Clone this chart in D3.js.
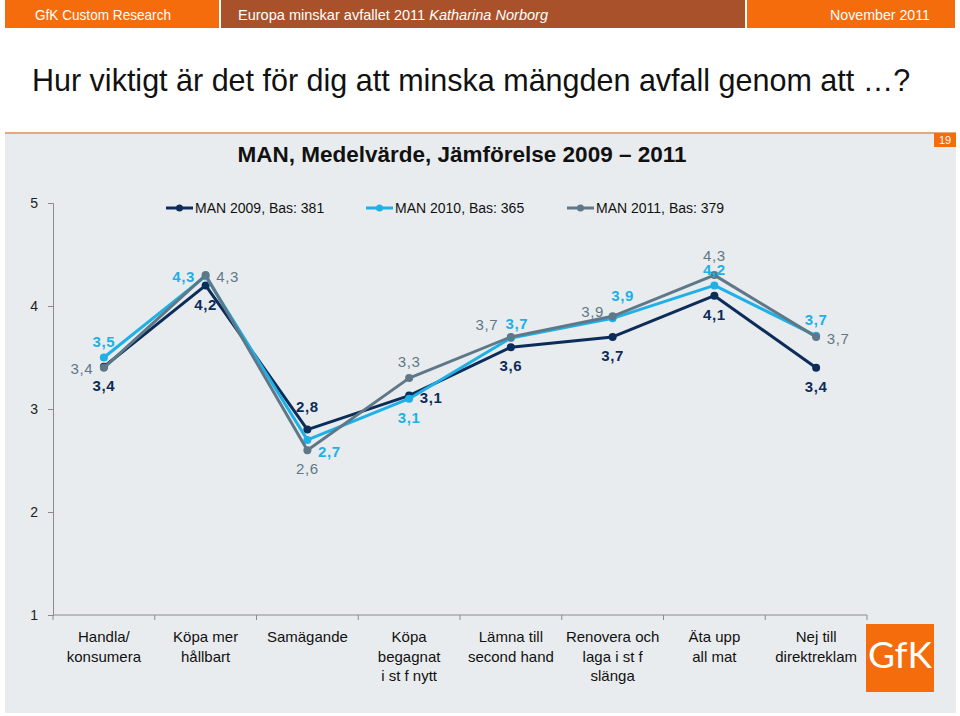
<!DOCTYPE html>
<html><head><meta charset="utf-8">
<script src="https://cdn.jsdelivr.net/npm/d3@7"></script>
<style>
body{margin:0;background:#fff;}
svg{display:block;font-family:"Liberation Sans",Arial,sans-serif;}
</style></head>
<body>
<svg id="c" width="960" height="716"></svg>
<script>
// ---- data ----
const categories = [
  ["Handla/","konsumera"],
  ["Köpa mer","hållbart"],
  ["Samägande"],
  ["Köpa","begagnat","i st f nytt"],
  ["Lämna till","second hand"],
  ["Renovera och","laga i st f","slänga"],
  ["Äta upp","all mat"],
  ["Nej till","direktreklam"]
];
const seriesNames = ["MAN 2009, Bas: 381","MAN 2010, Bas: 365","MAN 2011, Bas: 379"];
const values2009 = [3.41, 4.20, 2.80, 3.13, 3.60, 3.70, 4.10, 3.40];
const values2010 = [3.50, 4.29, 2.70, 3.10, 3.69, 3.88, 4.20, 3.71];
const values2011 = [3.40, 4.30, 2.60, 3.30, 3.70, 3.90, 4.30, 3.70];
const yTicks = [1, 2, 3, 4, 5];

// ---- label placement (style) ----
const place2009 = ["B","B","T2","R","B","B","B","B"];
const place2010 = ["T","L","BR","B","TR","TR2","T","T"];
const place2011 = ["L","R","B","T","TL","L2","T3","R"];
const offsets = {T:[0,-16],T2:[0,-23],T3:[0,-19],B:[0,19],L:[-22,1],L2:[-20,-5],R:[22,2],BR:[22,12],TR:[6,-14],TR2:[10,-23],TL:[-24,-12]};

const colors = ["#0c2c5a","#1eb0e6","#5e7888"];
const weights = ["bold","bold","normal"];
const labelColors = ["#0c2c5a","#1eb0e6","#5e7888"];

const svg = d3.select("#c");

// header bar
const hdr = [[5,219,"#f46c0c"],[221,745,"#a9512a"],[747,955,"#f46c0c"]];
svg.selectAll("rect.hdr").data(hdr).join("rect").attr("class","hdr")
  .attr("x",d=>d[0]).attr("y",0).attr("width",d=>d[1]-d[0]).attr("height",28).attr("fill",d=>d[2]);
svg.append("text").attr("x",35).attr("y",20).attr("fill","#fff").attr("font-size",15)
  .attr("textLength",136).attr("lengthAdjust","spacingAndGlyphs").text("GfK Custom Research");
const t2 = svg.append("text").attr("x",238).attr("y",20).attr("fill","#fff").attr("font-size",15)
  .attr("textLength",310).attr("lengthAdjust","spacingAndGlyphs");
t2.append("tspan").text("Europa minskar avfallet 2011 ");
t2.append("tspan").attr("font-style","italic").text("Katharina Norborg");
svg.append("text").attr("x",830).attr("y",20).attr("fill","#fff").attr("font-size",15)
  .attr("textLength",100).attr("lengthAdjust","spacingAndGlyphs").text("November 2011");

// page title
svg.append("text").attr("x",32).attr("y",91).attr("font-size",30.5).attr("fill","#111")
  .text("Hur viktigt är det för dig att minska mängden avfall genom att …?");

// panel
svg.append("rect").attr("x",5).attr("y",133).attr("width",951).attr("height",580).attr("fill","#e9ecee");
svg.append("rect").attr("x",5).attr("y",132).attr("width",951).attr("height",2).attr("fill","#eaa77a");
svg.append("rect").attr("x",934).attr("y",133).attr("width",22).attr("height",14).attr("fill","#f46c0c");
svg.append("text").attr("x",945).attr("y",144).attr("font-size",11).attr("fill","#fff").attr("text-anchor","middle").text("19");

// chart title
svg.append("text").attr("x",462).attr("y",162).attr("font-size",22.5).attr("font-weight","bold").attr("fill","#111")
  .attr("text-anchor","middle").text("MAN, Medelvärde, Jämförelse 2009 – 2011");

// scales
const x = d3.scaleBand().domain(d3.range(categories.length)).range([53,867]);
const y = d3.scaleLinear().domain([1,5]).range([615,203]);

// y axis
const yAxis = svg.append("g").attr("transform","translate(53,0)")
  .call(d3.axisLeft(y).tickValues(yTicks).tickSize(5).tickPadding(10).tickFormat(d3.format("d")));
yAxis.select(".domain").attr("stroke","#8a8a8a");
yAxis.selectAll(".tick line").attr("stroke","#8a8a8a");
yAxis.selectAll(".tick text").attr("font-size",14).attr("fill","#222").attr("font-family","Liberation Sans, Arial, sans-serif");

// x axis
const xAxis = svg.append("g").attr("transform","translate(0,615)")
  .call(d3.axisBottom(x).tickSize(0).tickFormat(""));
xAxis.select(".domain").attr("stroke","#8a8a8a").attr("d","M53,0H867");
const bounds = d3.range(categories.length+1).map(i=> i<categories.length ? x(i) : x(i-1)+x.bandwidth());
xAxis.selectAll("line.bt").data(bounds).join("line").attr("class","bt")
  .attr("x1",d=>d).attr("x2",d=>d).attr("y1",0).attr("y2",5).attr("stroke","#8a8a8a");
xAxis.selectAll(".tick").remove();

// x labels
const xl = svg.append("g");
categories.forEach((lines,i)=>{
  const t = xl.append("text").attr("text-anchor","middle").attr("font-size",15).attr("fill","#111")
    .attr("x",x(i)+x.bandwidth()/2).attr("y",642);
  lines.forEach((ln,j)=> t.append("tspan").attr("x",x(i)+x.bandwidth()/2).attr("dy",j===0?0:19.5).text(ln));
});

// lines
const allSeries = [values2009, values2010, values2011];
const places = [place2009, place2010, place2011];
const line = d3.line().x((d,i)=>x(i)+x.bandwidth()/2).y(d=>y(d));
const order = [0,1,2];
order.forEach(s=>{
  svg.append("path").datum(allSeries[s]).attr("d",line).attr("fill","none")
    .attr("stroke",colors[s]).attr("stroke-width",3).attr("stroke-linejoin","round");
  svg.selectAll("circle.s"+s).data(allSeries[s]).join("circle").attr("class","s"+s)
    .attr("cx",(d,i)=>x(i)+x.bandwidth()/2).attr("cy",d=>y(d)).attr("r",4).attr("fill",colors[s]);
});
const fmt = v => d3.format(".1f")(v).replace(".",",");
order.forEach(s=>{
  svg.selectAll("text.l"+s).data(allSeries[s]).join("text").attr("class","l"+s)
    .attr("x",(d,i)=>x(i)+x.bandwidth()/2+offsets[places[s][i]][0])
    .attr("y",(d,i)=>y(d)+offsets[places[s][i]][1])
    .attr("dy","0.35em").attr("text-anchor","middle")
    .attr("font-size",15).attr("letter-spacing",0.6).attr("font-weight",weights[s]).attr("fill",labelColors[s])
    .text(d=>fmt(d));
});

// legend
const legX = [166, 366, 567];
seriesNames.forEach((n,s)=>{
  const g = svg.append("g").attr("transform",`translate(${legX[s]},208)`);
  g.append("line").attr("x1",0).attr("x2",27).attr("y1",0).attr("y2",0).attr("stroke",colors[s]).attr("stroke-width",3);
  g.append("circle").attr("cx",13.5).attr("cy",0).attr("r",3.5).attr("fill",colors[s]);
  g.append("text").attr("x",29).attr("y",5).attr("font-size",14).attr("fill","#111").text(n);
});

// logo
svg.append("rect").attr("x",866).attr("y",624).attr("width",68).attr("height",68).attr("fill","#f46c0c");
svg.append("text").attr("x",900).attr("y",668).attr("text-anchor","middle").attr("font-size",37)
  .attr("font-family","Lato, 'Open Sans', sans-serif").attr("fill","#fff").text("GfK");
</script>
</body></html>
